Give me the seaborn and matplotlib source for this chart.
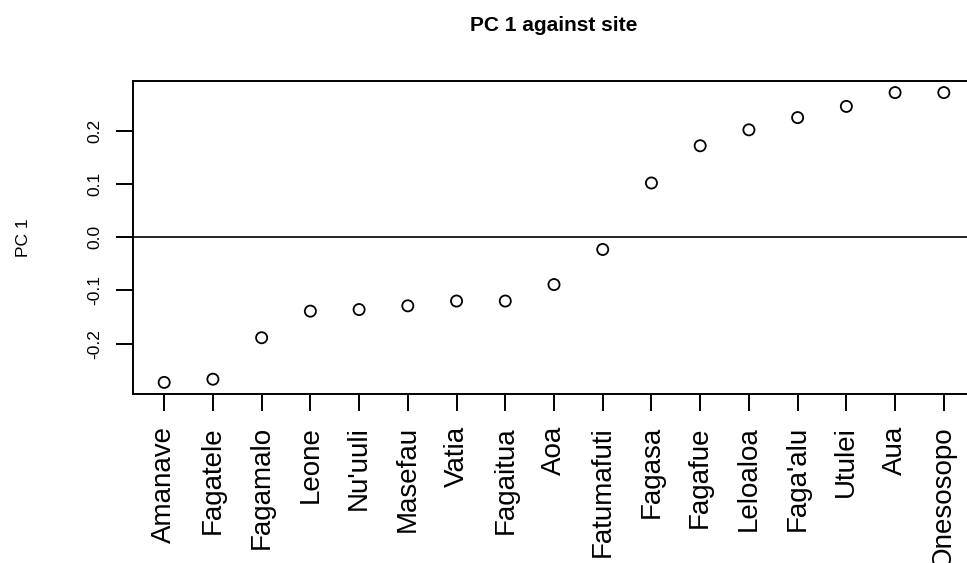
import numpy as np
import pandas as pd
import matplotlib
matplotlib.use('Agg')
import matplotlib.pyplot as plt
import seaborn as sns

# PC 1 score per site
sites = ['Amanave', 'Fagatele', 'Fagamalo', 'Leone', "Nu'uuli", 'Masefau', 'Vatia',
         'Fagaitua', 'Aoa', 'Fatumafuti', 'Fagasa', 'Fagafue', 'Leloaloa', "Faga'alu",
         'Utulei', 'Aua', 'Onesosopo']
pc1 = [-0.273, -0.267, -0.189, -0.139, -0.136, -0.129, -0.120,
       -0.120, -0.089, -0.023, 0.102, 0.172, 0.202, 0.225,
       0.246, 0.272, 0.272]
y_ticks = [-0.2, -0.1, 0.0, 0.1, 0.2]
y_tick_labels = ['-0.2', '-0.1', '0.0', '0.1', '0.2']

df = pd.DataFrame({'site': sites, 'pc1': pc1})

sns.set_theme(style='white')
plt.rcParams['font.family'] = ['Liberation Sans', 'DejaVu Sans']

fig = plt.figure(figsize=(9.67, 5.63), dpi=100)
# R-style plot region; the right edge runs slightly off the canvas like the original
ax = fig.add_axes([133 / 967, 1 - 394 / 563, (975 - 133) / 967, (394 - 81) / 563])

sns.scatterplot(data=df, x='site', y='pc1', ax=ax, s=64, facecolors='none',
                edgecolor='black', linewidth=1.3, legend=False)
ax.axhline(0, color='black', lw=1.2, zorder=0)

n = len(sites)
pad_x = (n - 1) * 0.04
ax.set_xlim(-pad_x, n - 1 + pad_x)
rng = max(pc1) - min(pc1)
ax.set_ylim(min(pc1) - 0.04 * rng, max(pc1) + 0.04 * rng)

ax.set_yticks(y_ticks)
ax.set_yticklabels(y_tick_labels, rotation=90, va='center', fontsize=12.5)
ax.set_xticks(range(n))
ax.set_xticklabels(sites, rotation=90, fontsize=20)

ax.tick_params(axis='x', length=12.2, width=1.4, color='black', pad=11, direction='out',
               bottom=True, labelcolor='black')
ax.tick_params(axis='y', length=12.2, width=1.4, color='black', pad=10, direction='out',
               left=True, labelcolor='black')

for sp in ax.spines.values():
    sp.set_color('black')
    sp.set_linewidth(1.4)

ax.set_xlabel('')
ax.set_ylabel('PC 1', fontsize=12.5, color='black')
ax.yaxis.set_label_coords(-0.121, 0.5)
ax.set_title('PC 1 against site', fontsize=15, fontweight='bold', pad=36, color='black')

fig.savefig('out.png', dpi=100, facecolor='white')
